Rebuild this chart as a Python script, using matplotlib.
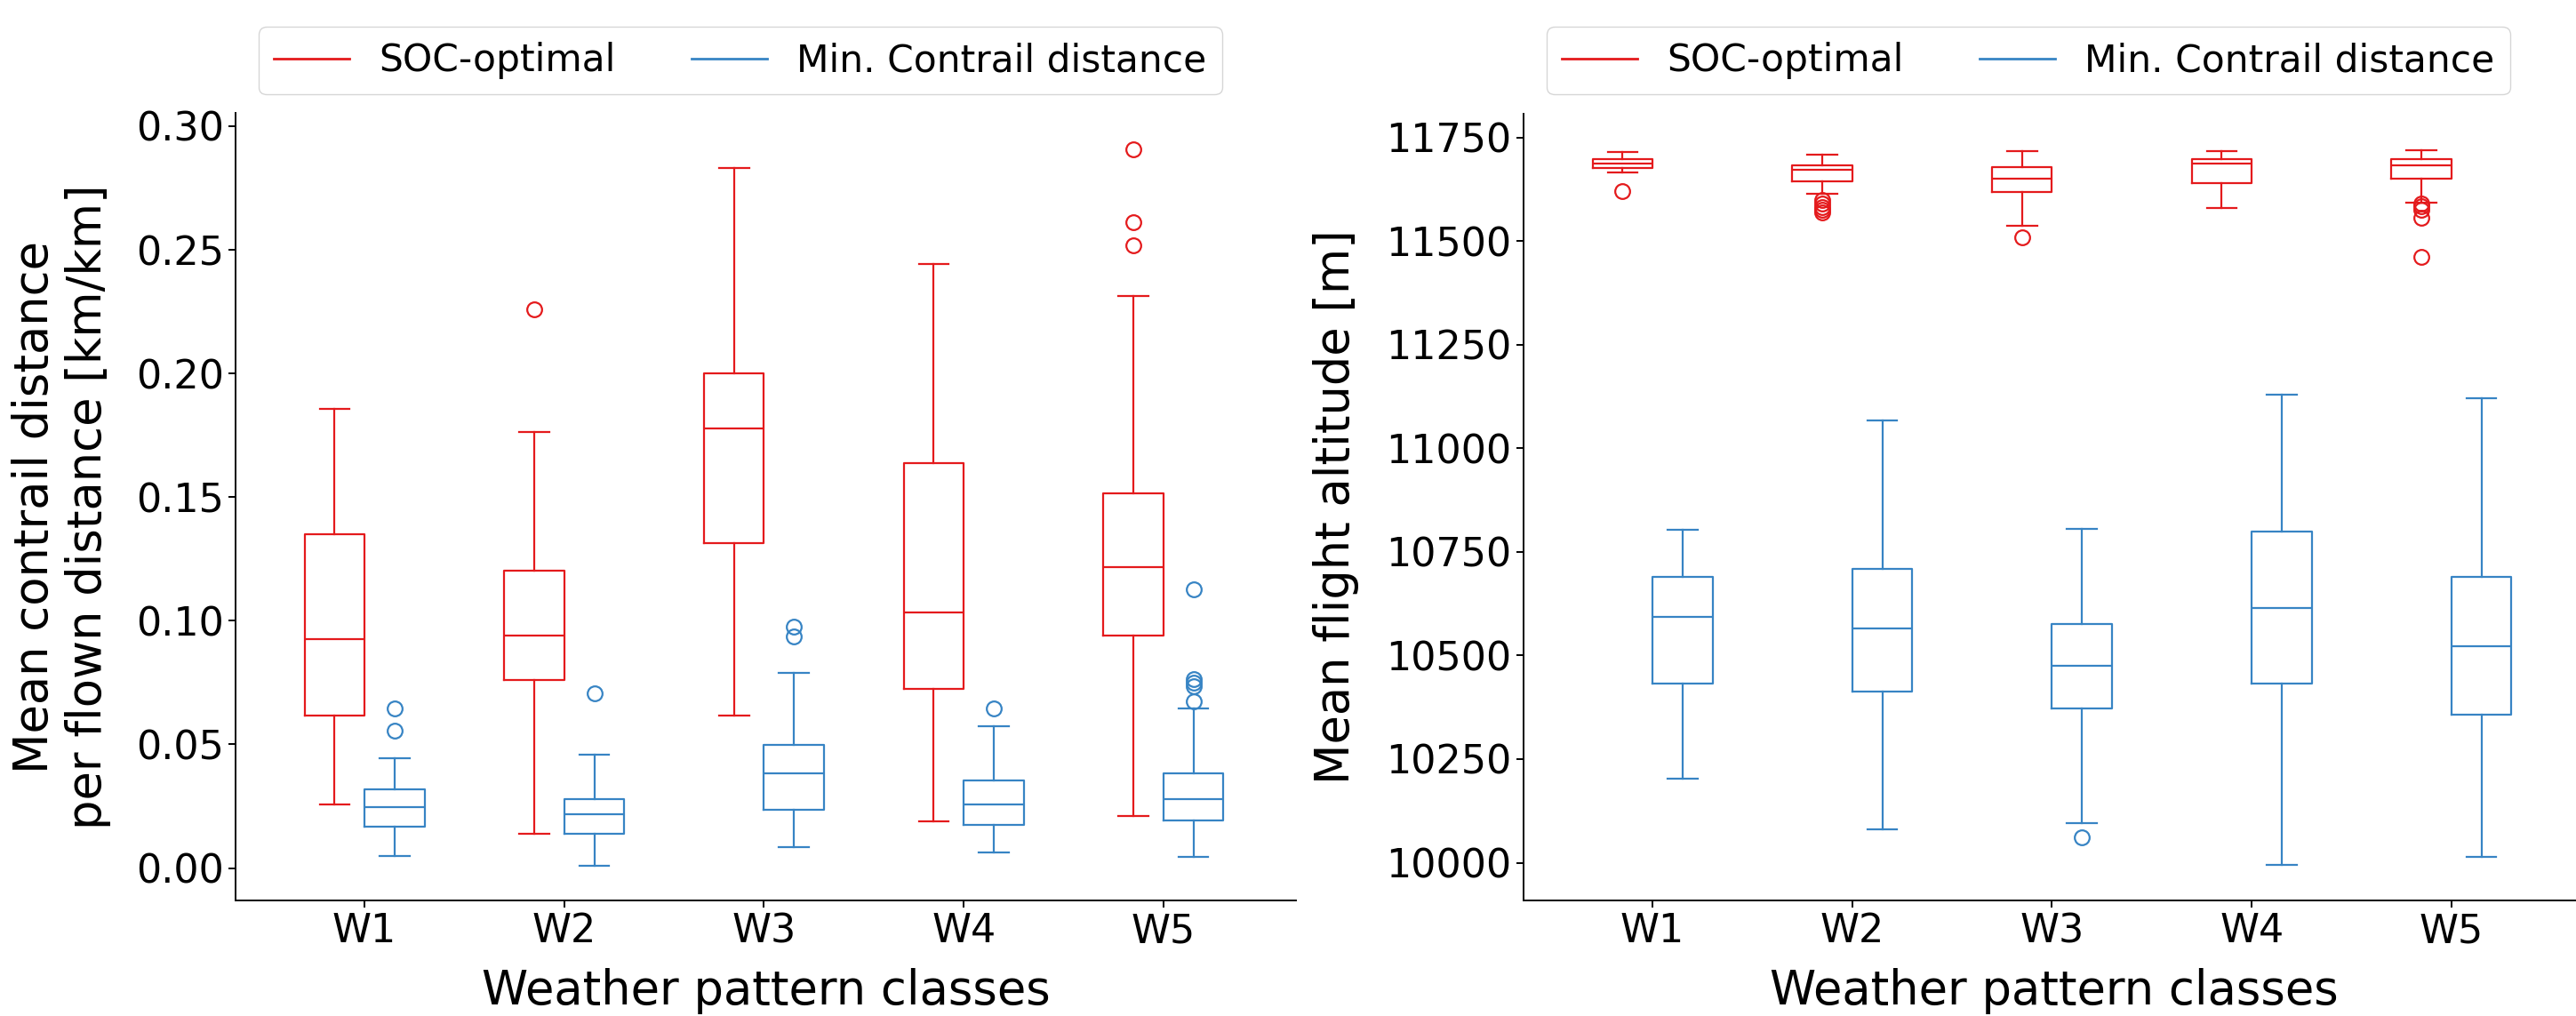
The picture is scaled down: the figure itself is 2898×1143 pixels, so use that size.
import numpy as np
import matplotlib.pyplot as plt
from matplotlib.lines import Line2D

classes = ["W1", "W2", "W3", "W4", "W5"]
series_names = ["SOC-optimal", "Min. Contrail distance"]

# contrail distance per flown distance [km/km]: whislo, q1, med, q3, whishi
dist_soc_whislo = [0.0257, 0.0139, 0.0616, 0.0189, 0.0210]
dist_soc_q1 = [0.0616, 0.0760, 0.1313, 0.0726, 0.0941]
dist_soc_med = [0.0927, 0.0941, 0.1776, 0.1032, 0.1218]
dist_soc_q3 = [0.1349, 0.1203, 0.2002, 0.1638, 0.1517]
dist_soc_whishi = [0.1858, 0.1763, 0.2832, 0.2444, 0.2313]
dist_soc_fliers = [[], [0.2259], [], [], [0.2908, 0.2610, 0.2520]]

dist_min_whislo = [0.0050, 0.0008, 0.0084, 0.0063, 0.0045]
dist_min_q1 = [0.0168, 0.0139, 0.0236, 0.0173, 0.0194]
dist_min_med = [0.0246, 0.0217, 0.0383, 0.0257, 0.0278]
dist_min_q3 = [0.0320, 0.0278, 0.0498, 0.0354, 0.0383]
dist_min_whishi = [0.0445, 0.0459, 0.0789, 0.0574, 0.0645]
dist_min_fliers = [[0.0647, 0.0555], [0.0705], [0.0977, 0.0938], [0.0647],
                   [0.1127, 0.0765, 0.0750, 0.0734, 0.0673]]

# mean flight altitude [m]
alt_soc_whislo = [11665, 11613, 11537, 11579, 11592]
alt_soc_q1 = [11677, 11645, 11619, 11640, 11651]
alt_soc_med = [11687, 11671, 11650, 11687, 11683]
alt_soc_q3 = [11697, 11683, 11679, 11697, 11697]
alt_soc_whishi = [11714, 11709, 11717, 11717, 11720]
alt_soc_fliers = [[11620], [11598, 11590, 11582, 11575, 11568], [11508], [],
                  [11590, 11583, 11575, 11555, 11462]]

alt_min_whislo = [10203, 10080, 10095, 9994, 10014]
alt_min_q1 = [10433, 10412, 10372, 10433, 10358]
alt_min_med = [10594, 10566, 10475, 10614, 10523]
alt_min_q3 = [10689, 10708, 10577, 10798, 10689]
alt_min_whishi = [10803, 11066, 10806, 11130, 11120]
alt_min_fliers = [[], [], [10062], [], []]

RED = "#e41a1c"
BLUE = "#3784c4"

plt.rcParams["font.family"] = "DejaVu Sans"


def make_stats(whislo, q1, med, q3, whishi, fliers):
    return [dict(whislo=a, q1=b, med=c, q3=d, whishi=e, fliers=f)
            for a, b, c, d, e, f in zip(whislo, q1, med, q3, whishi, fliers)]


def draw_boxes(ax, stats, positions, color):
    lp = dict(color=color, linewidth=1.6)
    ax.bxp(stats, positions=positions, widths=0.3, manage_ticks=False,
           boxprops=lp, whiskerprops=lp, capprops=lp, medianprops=lp,
           flierprops=dict(marker="o", markerfacecolor="none", markeredgecolor=color,
                           markersize=12, markeredgewidth=1.6))


fig = plt.figure(figsize=(28.98, 11.43), dpi=100)
ax1 = fig.add_axes([265 / 2898, 1 - 1013 / 1143, 1193 / 2898, 885.5 / 1143])
ax2 = fig.add_axes([1714 / 2898, 1 - 1013 / 1143, 1193 / 2898, 885.5 / 1143])

x = np.arange(1, len(classes) + 1)

draw_boxes(ax1, make_stats(dist_soc_whislo, dist_soc_q1, dist_soc_med, dist_soc_q3,
                           dist_soc_whishi, dist_soc_fliers), x - 0.15, RED)
draw_boxes(ax1, make_stats(dist_min_whislo, dist_min_q1, dist_min_med, dist_min_q3,
                           dist_min_whishi, dist_min_fliers), x + 0.15, BLUE)
draw_boxes(ax2, make_stats(alt_soc_whislo, alt_soc_q1, alt_soc_med, alt_soc_q3,
                           alt_soc_whishi, alt_soc_fliers), x - 0.15, RED)
draw_boxes(ax2, make_stats(alt_min_whislo, alt_min_q1, alt_min_med, alt_min_q3,
                           alt_min_whishi, alt_min_fliers), x + 0.15, BLUE)

ax1.set_ylim(-0.0131, 0.3052)
ax1.set_yticks(np.arange(0, 0.31, 0.05))
ax1.set_yticklabels([f"{v:.2f}" for v in np.arange(0, 0.31, 0.05)])
ax2.set_ylim(9909, 11808)
ax2.set_yticks(np.arange(10000, 11751, 250))

ax1.set_ylabel("Mean contrail distance\nper flown distance [km/km]", fontsize=38, labelpad=20)
ax2.set_ylabel("Mean flight altitude [m]", fontsize=38, labelpad=22)

handles = [Line2D([], [], color=RED, linewidth=2), Line2D([], [], color=BLUE, linewidth=2)]
for ax in (ax1, ax2):
    ax.set_xlim(0.354, 5.664)
    ax.set_xticks(x)
    ax.set_xticklabels(classes)
    ax.set_xlabel("Weather pattern classes", fontsize=38, labelpad=14)
    ax.tick_params(labelsize=32, length=6, width=1.4)
    ax.spines["top"].set_visible(False)
    ax.spines["right"].set_visible(False)
    ax.spines["left"].set_linewidth(1.4)
    ax.spines["bottom"].set_linewidth(1.4)
    ax.legend(handles, series_names, loc="lower center", bbox_to_anchor=(0.476, 1.0),
              ncol=2, fontsize=30.5)

fig.savefig("out.png", dpi=100)
plt.close(fig)
